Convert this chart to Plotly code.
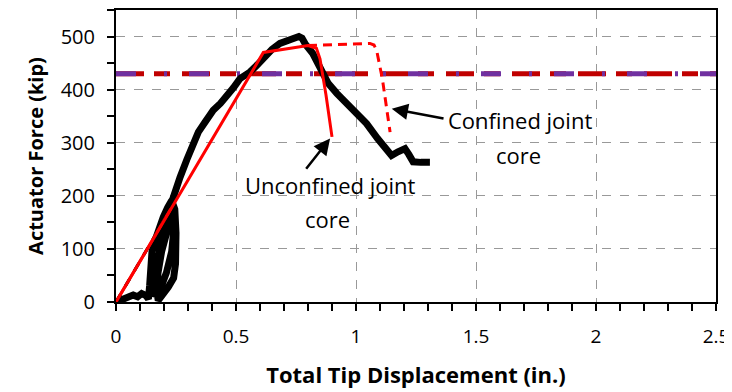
import plotly.graph_objects as go

# Measured black test curve (hysteresis + skeleton)
test_x = [0.0, 0.03, 0.06, 0.072, 0.09, 0.107, 0.125, 0.135, 0.14, 0.142, 0.15, 0.163, 0.18, 0.197, 0.215, 0.232,
          0.245, 0.25, 0.248, 0.24, 0.218, 0.195, 0.176, 0.17, 0.175, 0.19, 0.205, 0.22, 0.232, 0.24, 0.242, 0.232,
          0.21, 0.185, 0.165, 0.16, 0.175, 0.195, 0.215, 0.232, 0.25, 0.267, 0.295, 0.322, 0.343, 0.37, 0.405,
          0.435, 0.461, 0.49, 0.517, 0.558, 0.585, 0.614, 0.65, 0.683, 0.72, 0.745, 0.762, 0.775, 0.79, 0.82,
          0.85, 0.884, 0.92, 0.961, 1.0, 1.044, 1.09, 1.148, 1.175, 1.204, 1.22, 1.238, 1.27, 1.308]
test_y = [0, 4, 8, 13, 10, 16, 12, 6, 30, 72, 95, 116, 140, 160, 178, 191,
          175, 130, 72, 45, 28, 12, 3, 20, 55, 95, 125, 150, 165, 170, 140, 95,
          55, 25, 10, 40, 90, 135, 165, 191, 210, 235, 268, 298, 320, 338, 361,
          374, 386, 404, 421, 433, 445, 461, 476, 487, 494, 498, 500, 497, 485, 468,
          440, 412, 393, 374, 356, 336, 308, 276, 283, 289, 278, 264, 263, 263]

# Bilinear model - unconfined joint core
unconf_x = [0.0, 0.614, 0.80, 0.835, 0.85, 0.875, 0.90]
unconf_y = [0, 470, 483, 478, 458, 390, 311]

# Model - confined joint core (dashed)
conf_x = [0.80, 0.95, 1.058, 1.075, 1.086, 1.11, 1.142]
conf_y = [483, 486, 487, 484, 474, 420, 320]

# Initial stiffness overlay
init_x = [0.0, 0.228]
init_y = [0, 175]

# Horizontal reference level (kip)
ref_level = 430
ref_x = [0.0, 2.5]

fig = go.Figure()

fig.add_trace(go.Scatter(x=ref_x, y=[ref_level, ref_level], mode="lines",
                         line=dict(color="#C00000", width=5, dash="28px,10px,16px,12px"), showlegend=False))
fig.add_trace(go.Scatter(x=ref_x, y=[ref_level, ref_level], mode="lines",
                         line=dict(color="#7030A0", width=5, dash="20px,28px,3px,22px"), showlegend=False))

fig.add_trace(go.Scatter(x=test_x, y=test_y, mode="lines",
                         line=dict(color="black", width=7), showlegend=False))

fig.add_trace(go.Scatter(x=init_x, y=init_y, mode="lines",
                         line=dict(color="red", width=3), showlegend=False))
fig.add_trace(go.Scatter(x=init_x, y=init_y, mode="lines",
                         line=dict(color="black", width=3, dash="9px,9px"), showlegend=False))

fig.add_trace(go.Scatter(x=unconf_x, y=unconf_y, mode="lines",
                         line=dict(color="red", width=3), showlegend=False))
fig.add_trace(go.Scatter(x=conf_x, y=conf_y, mode="lines",
                         line=dict(color="red", width=3, dash="9px,6px"), showlegend=False))

font_fam = "Open Sans, Noto Sans, sans-serif"
ann_font = dict(family=font_fam, size=22, color="black")

fig.add_annotation(x=1.149, y=364, ax=1.371, ay=345, xref="x", yref="y", axref="x", ayref="y",
                   text="", showarrow=True, arrowhead=2, arrowsize=1.3, arrowwidth=2.5, arrowcolor="black")
fig.add_annotation(x=1.683, y=342, xref="x", yref="y", text="Confined joint", showarrow=False, font=ann_font)
fig.add_annotation(x=1.675, y=276, xref="x", yref="y", text="core", showarrow=False, font=ann_font)

fig.add_annotation(x=0.892, y=308, ax=0.7875, ay=248, xref="x", yref="y", axref="x", ayref="y",
                   text="", showarrow=True, arrowhead=2, arrowsize=1.3, arrowwidth=2.5, arrowcolor="black")
fig.add_annotation(x=0.892, y=220, xref="x", yref="y", text="Unconfined joint", showarrow=False, font=ann_font)
fig.add_annotation(x=0.883, y=157, xref="x", yref="y", text="core", showarrow=False, font=ann_font)

fig.update_layout(
    width=740, height=384,
    margin=dict(l=108, r=32, t=2, b=90, autoexpand=False),
    paper_bgcolor="white", plot_bgcolor="white",
    font=dict(family=font_fam, size=19, color="black"),
)
fig.update_xaxes(range=[0, 2.5], dtick=0.5, showgrid=True, gridcolor="#999999", griddash="dash", gridwidth=1,
                 showline=True, linecolor="black", linewidth=2, mirror=True, zeroline=False,
                 ticks="outside", ticklen=7, tickwidth=1.5, tickcolor="black", ticklabelstandoff=9,
                 ticklabeloverflow="allow",
                 minor=dict(dtick=0.1, ticks="outside", ticklen=7, tickwidth=1.5, tickcolor="black", showgrid=False),
                 title=dict(text="<b>Total Tip Displacement (in.)</b>", font=dict(size=22), standoff=20),
                 tickfont=dict(size=19))
fig.update_yaxes(range=[0, 550], tickvals=[0, 100, 200, 300, 400, 500], showgrid=True, gridcolor="#999999",
                 griddash="dash", gridwidth=1,
                 showline=True, linecolor="black", linewidth=2, mirror=True, zeroline=False,
                 ticks="outside", ticklen=7, tickwidth=1.5, tickcolor="black", ticklabelstandoff=8,
                 minor=dict(tickvals=[50, 150, 250, 350, 450, 550], ticks="outside", ticklen=7, tickwidth=1.5,
                            tickcolor="black", showgrid=False),
                 title=dict(text="<b>Actuator Force (kip)</b>", font=dict(size=20), standoff=12),
                 tickfont=dict(size=20))

fig.write_html("out.html")
